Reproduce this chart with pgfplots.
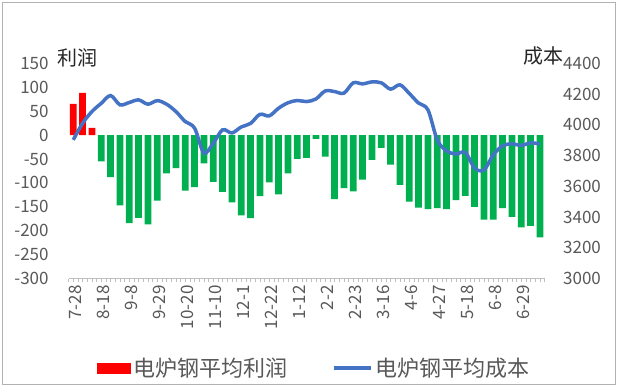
\documentclass[border=0pt]{standalone}
\usepackage{pgfplots}
\usepackage{pgfplotstable}
\pgfplotsset{compat=1.18}
\usepackage{fontspec}
\setmainfont{Noto Sans CJK SC}
\definecolor{barred}{HTML}{FF0000}
\definecolor{bargreen}{HTML}{00B050}
\definecolor{lineblue}{HTML}{4472C4}
\definecolor{txt}{HTML}{595959}

\pgfplotstableread{
x profit
0 65
1 88
2 15
3 -55
4 -88
5 -147
6 -184
7 -173
8 -187
9 -137
10 -80
11 -69
12 -116
13 -109
14 -59
15 -98
16 -119
17 -141
18 -168
19 -174
20 -128
21 -99
22 -124
23 -80
24 -50
25 -48
26 -8
27 -45
28 -134
29 -111
30 -118
31 -93
32 -52
33 -27
34 -62
35 -104
36 -139
37 -152
38 -155
39 -153
40 -155
41 -136
42 -127
43 -150
44 -177
45 -177
46 -153
47 -171
48 -193
49 -190
50 -214
}\profittable

\pgfplotstableread{
x cost
0 3902
1 4010
2 4086
3 4140
4 4190
5 4130
6 4145
7 4162
8 4134
9 4157
10 4134
11 4086
12 4021
13 3978
14 3817
15 3880
16 3967
17 3947
18 3986
19 4009
20 4068
21 4058
22 4108
23 4143
24 4158
25 4151
26 4168
27 4220
28 4216
29 4206
30 4273
31 4266
32 4279
33 4273
34 4232
35 4260
36 4204
37 4141
38 4097
39 3902
40 3830
41 3810
42 3820
43 3719
44 3706
45 3804
46 3863
47 3876
48 3866
49 3882
50 3876
}\costtable

\begin{document}
\begin{tikzpicture}
\fill[white] (0,0) rectangle (619pt,386pt);
\path[use as bounding box] (0,0) rectangle (619pt,386pt);
\draw[black!30, line width=1pt] (2pt,2pt) rectangle (615pt,383pt);

\pgfplotsset{
  commonaxis/.style={
    scale only axis, width=476pt, height=215.2pt,
    at={(68.6pt,107.5pt)}, anchor=south west,
    xmin=-0.5, xmax=50.5,
    /pgf/number format/assume math mode=true,
    /pgf/number format/1000 sep={},
    ticklabel style={font=\fontsize{17}{18}\selectfont, text=txt},
    y axis line style={draw=none},
    ytick style={draw=none},
  }
}

\begin{axis}[
  commonaxis,
  ymin=-300, ymax=150,
  ytick={-300,-250,...,150},
  axis x line*=bottom, axis y line*=left,
  xtick={0,3,...,48},
  xticklabels={7-28,8-18,9-8,9-29,10-20,11-10,12-1,12-22,1-12,2-2,2-23,3-16,4-6,4-27,5-18,6-8,6-29},
  minor xtick={-0.5,0,...,50.5},
  x axis line style={black!25, line width=1pt},
  x tick style={black!25, line width=0.8pt},
  tick align=outside,
  major tick length=3.5pt, minor tick length=3.5pt,
  xticklabel style={rotate=90, anchor=east, yshift=-2pt},
  yticklabel style={xshift=-13pt},
]
\addplot[ybar, bar width=6.7pt, bar shift=0pt, fill=barred, draw=none,
  restrict y to domain=0:1000] table[x=x, y=profit]{\profittable};
\addplot[ybar, bar width=6.7pt, bar shift=0pt, fill=bargreen, draw=none,
  restrict y to domain=-1000:0] table[x=x, y=profit]{\profittable};
\end{axis}

\begin{axis}[
  commonaxis,
  ymin=3000, ymax=4400,
  ytick={3000,3200,...,4400},
  axis y line*=right,
  hide x axis,
  yticklabel style={xshift=15pt},
  legend columns=2,
  legend style={draw=none, fill=none, at={(0.0597,-0.416)}, anchor=west,
    inner sep=0pt, outer sep=0pt,
    font=\fontsize{22}{24}\selectfont,
    nodes={text=txt, inner sep=3pt},
    /tikz/every even column/.append style={column sep=42pt}},
]
\addlegendimage{legend image code/.code={\fill[barred] (0pt,-5pt) rectangle (33pt,5pt);}}
\addlegendentry{电炉钢平均利润}
\addplot[lineblue, line width=3.5pt, smooth, tension=0.55,
  legend image code/.code={\draw[lineblue, line width=3.5pt] (0pt,0pt) -- (37pt,0pt);}]
  table[x=x, y=cost]{\costtable};
\addlegendentry{电炉钢平均成本}
\end{axis}

\node[font=\fontsize{20}{22}\selectfont, text=black!85] at (77pt,328pt) {利润};
\node[font=\fontsize{20}{22}\selectfont, text=black!85] at (543pt,330pt) {成本};
\end{tikzpicture}
\end{document}
